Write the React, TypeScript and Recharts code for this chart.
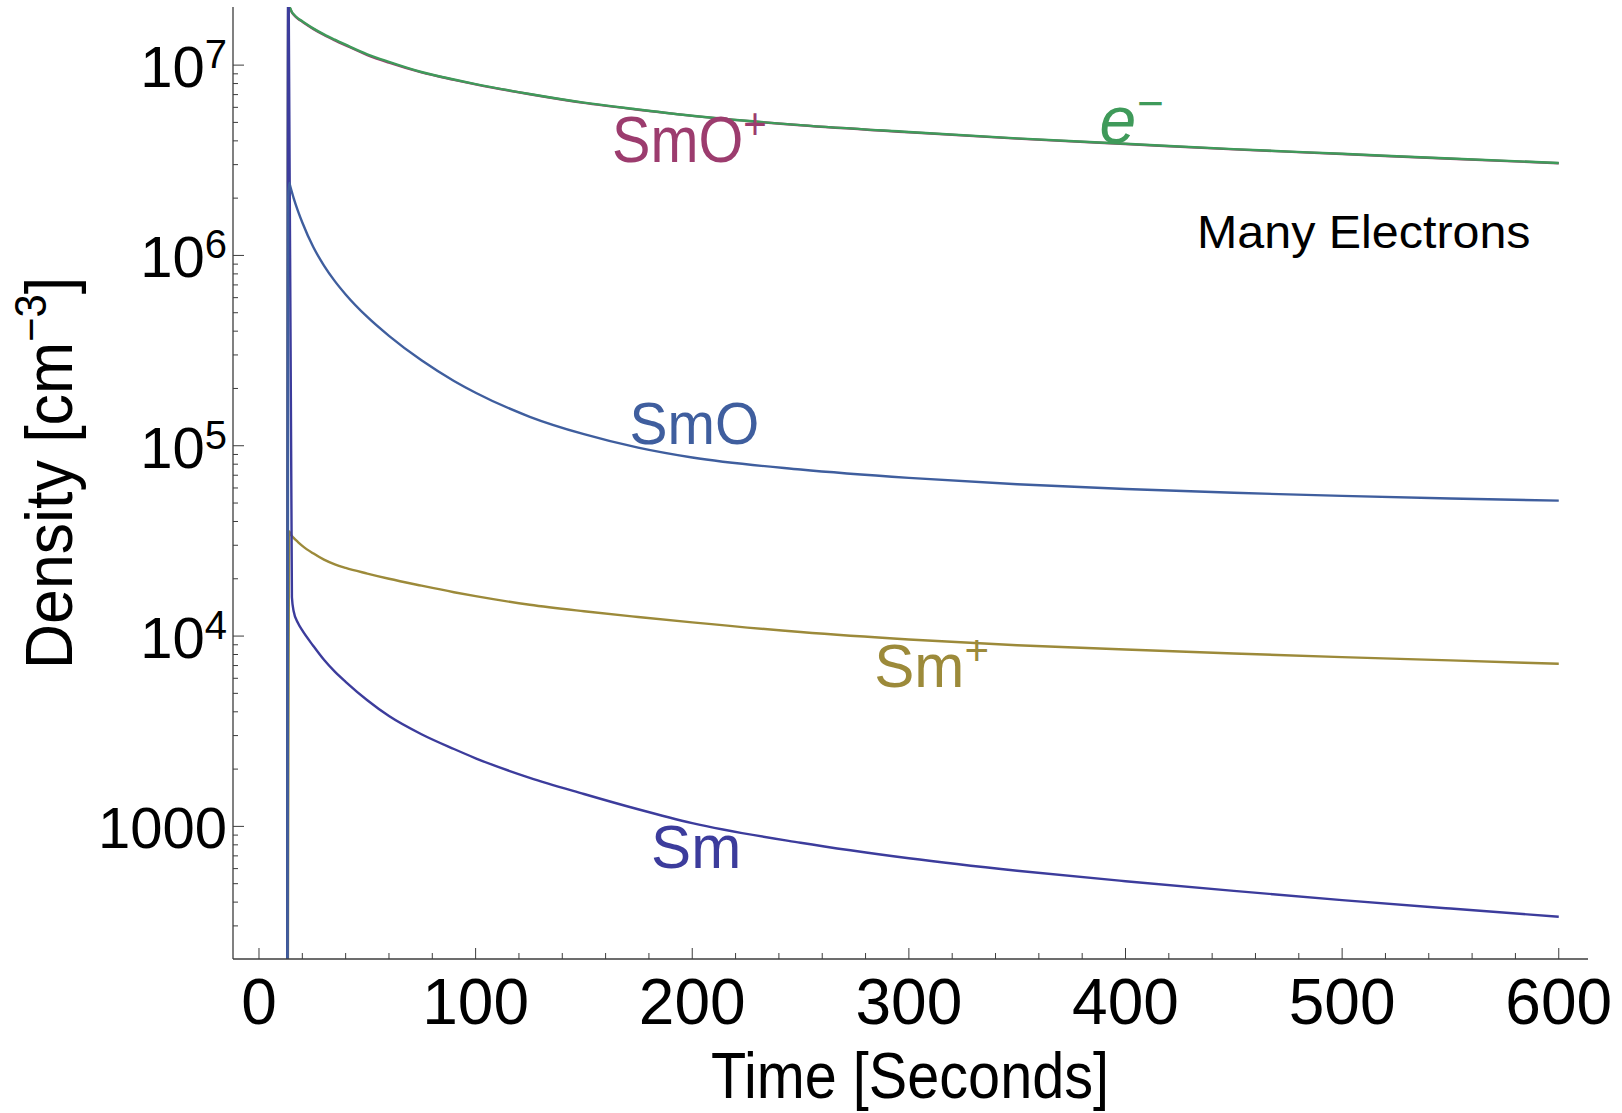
import React from 'react';
import { LineChart, Line, XAxis, YAxis, ReferenceDot } from 'recharts';

// time axis (seconds) shared by all species
const times = [13, 13.5, 14, 14.5, 15.2, 16, 18, 20, 25, 30, 35, 40, 50, 60, 75, 90, 100, 125, 150, 175, 200, 250, 300, 350, 400, 450, 500, 550, 600];

// densities in cm^-3 (null = no sample at that time)
const electrons = [1, 2.3e7, 2.05e7, 1.98e7, 1.9e7, 1.85e7, 1.76e7, 1.7e7, 1.56e7, 1.45e7, 1.36e7, 1.28e7, 1.14e7, 1.04e7, 9.2e6, 8.4e6, 7.95e6, 7.05e6, 6.35e6, 5.85e6, 5.42e6, 4.84e6, 4.45e6, 4.12e6, 3.86e6, 3.62e6, 3.42e6, 3.23e6, 3.06e6];
const smoPlus = [1, 2.2e7, 2.04e7, 1.97e7, 1.89e7, 1.84e7, 1.75e7, 1.69e7, 1.55e7, 1.44e7, 1.35e7, 1.27e7, 1.13e7, 1.03e7, 9.15e6, 8.37e6, 7.92e6, 7.03e6, 6.33e6, 5.83e6, 5.41e6, 4.83e6, 4.44e6, 4.11e6, 3.85e6, 3.61e6, 3.41e6, 3.22e6, 3.05e6];
const smo = [1, 2.0e6, 2.4e6, 2.29e6, 2.15e6, 2.0e6, 1.71e6, 1.49e6, 1.11e6, 8.85e5, 7.33e5, 6.24e5, 4.75e5, 3.78e5, 2.81e5, 2.19e5, 1.9e5, 1.42e5, 1.15e5, 9.77e4, 8.67e4, 7.5e4, 6.78e4, 6.28e4, 5.93e4, 5.66e4, 5.45e4, 5.28e4, 5.15e4];
const smPlus = [1, null, 3.55e4, 3.45e4, 3.36e4, 3.28e4, 3.12e4, 2.98e4, 2.72e4, 2.52e4, 2.38e4, 2.28e4, 2.13e4, 2.0e4, 1.84e4, 1.7e4, 1.62e4, 1.46e4, 1.35e4, 1.26e4, 1.18e4, 1.05e4, 9.6e3, 8.95e3, 8.5e3, 8.1e3, 7.75e3, 7.45e3, 7.15e3];
const sm = [1, 6e7, null, null, 1.6e4, 1.35e4, 1.17e4, 1.07e4, 8.9e3, 7.5e3, 6.5e3, 5.75e3, 4.6e3, 3.8e3, 3.05e3, 2.55e3, 2.28e3, 1.8e3, 1.48e3, 1.23e3, 1.04e3, 820, 680, 585, 515, 458, 410, 370, 335];

// ticks
const xMajorTicks = [0, 100, 200, 300, 400, 500, 600];
const xTickLabels = ['0', '100', '200', '300', '400', '500', '600'];
const xMinorTicks = [20, 40, 60, 80, 120, 140, 160, 180, 220, 240, 260, 280, 320, 340, 360, 380, 420, 440, 460, 480, 520, 540, 560, 580];
const yMajorTicks = [1e3, 1e4, 1e5, 1e6, 1e7];
const yTickBases = ['1000', '10', '10', '10', '10'];
const yTickExps = ['', '4', '5', '6', '7'];
const yMinorSteps = [2, 3, 4, 5, 6, 7, 8, 9];
const yDecades = [100, 1e3, 1e4, 1e5, 1e6, 1e7];

// series annotations: [time, density]
const labelSmoPlus = [163, 3.11e6];
const labelElectron = [388, 3.92e6];
const labelSmo = [171, 1.02e5];
const labelSmPlus = [284, 5.4e3];
const labelSm = [181, 605];
const labelNote = [433, 1.1e6];

const W = 1622;
const H = 1113;
const X_DOMAIN = [-12, 613.5];
const Y_DOMAIN = [201, 2.02e7];
const FONT = '"Liberation Sans", Arial, Helvetica, sans-serif';
const FRAME = '#3c3c3c';

const C_E = '#3f9a5a';
const C_SMOP = '#9c3c6e';
const C_SMO = '#3f5e9e';
const C_SMP = '#9c8a3a';
const C_SM = '#3c3c9c';

const yMinorTicks = yDecades
  .flatMap((d) => yMinorSteps.map((s) => s * d))
  .filter((v) => v > Y_DOMAIN[0] && v < Y_DOMAIN[1] * 0.97);

const BottomTick = (props: any) => {
  const { x, y, payload } = props;
  const i = xMajorTicks.indexOf(payload.value);
  const major = i >= 0;
  return (
    <g>
      <line x1={x} x2={x} y1={y} y2={y - (major ? 11 : 6)} stroke={FRAME} strokeWidth={1} />
      {major && (
        <text x={x} y={y + 65} textAnchor="middle" fontSize={64} fontFamily={FONT} fill="#000">
          {xTickLabels[i]}
        </text>
      )}
    </g>
  );
};

const TopTick = (props: any) => {
  const { x, y, payload } = props;
  const major = xMajorTicks.includes(payload.value);
  return <line x1={x} x2={x} y1={y} y2={y + (major ? 11 : 6)} stroke={FRAME} strokeWidth={1} />;
};

const LeftTick = (props: any) => {
  const { x, y, payload } = props;
  const i = yMajorTicks.indexOf(payload.value);
  const major = i >= 0;
  return (
    <g>
      <line x1={x} x2={x + (major ? 11 : 5)} y1={y} y2={y} stroke={FRAME} strokeWidth={1} />
      {major && (
        <text x={x - 6} y={y + 22} textAnchor="end" fontSize={58} fontFamily={FONT} fill="#000">
          {yTickBases[i]}
          {yTickExps[i] && (
            <tspan fontSize={40} dy={-19}>
              {yTickExps[i]}
            </tspan>
          )}
        </text>
      )}
    </g>
  );
};

const RightTick = (props: any) => {
  const { x, y, payload } = props;
  const major = yMajorTicks.includes(payload.value);
  return <line x1={x} x2={x - (major ? 11 : 5)} y1={y} y2={y} stroke={FRAME} strokeWidth={1} />;
};

const seriesText = (text: string, sup: string, color: string, size = 62, sx = 0.95, italic = false) =>
  (p: any) => (
    <text
      transform={`translate(${p.cx},${p.cy}) scale(${sx},1)`}
      fontSize={size}
      fontFamily={FONT}
      fontStyle={italic ? 'italic' : 'normal'}
      fill={color}
    >
      {text}
      {sup && (
        <tspan fontSize={size * 0.7} dy={-size * 0.36}>
          {sup}
        </tspan>
      )}
    </text>
  );

export default function App() {
  const rows = times.map((t, i) => ({
    t,
    e: electrons[i],
    smoPlus: smoPlus[i],
    smo: smo[i],
    smPlus: smPlus[i],
    sm: sm[i],
  }));

  const line = (key: string, color: string) => (
    <Line
      key={key}
      xAxisId="b"
      yAxisId="l"
      type="monotone"
      dataKey={key}
      stroke={color}
      strokeWidth={2.4}
      dot={false}
      connectNulls
      isAnimationActive={false}
    />
  );

  return (
    <div style={{ position: 'absolute', left: 0, top: 0, width: W, height: H, background: '#fff' }}>
      <LineChart width={W} height={H} data={rows} margin={{ top: 7, right: 34, bottom: 0, left: 0 }}>
        <XAxis
          xAxisId="b"
          dataKey="t"
          type="number"
          domain={X_DOMAIN}
          allowDataOverflow
          ticks={[...xMajorTicks, ...xMinorTicks]}
          interval={0}
          height={154}
          tickSize={0}
          tickMargin={0}
          tickLine={false}
          axisLine={{ stroke: FRAME, strokeWidth: 1.3 }}
          tick={BottomTick}
        />
        <XAxis
          xAxisId="t"
          orientation="top"
          dataKey="t"
          type="number"
          domain={X_DOMAIN}
          allowDataOverflow
          ticks={[...xMajorTicks, ...xMinorTicks]}
          interval={0}
          height={0}
          tickSize={0}
          tickMargin={0}
          tickLine={false}
          axisLine={{ stroke: FRAME, strokeWidth: 1.3 }}
          tick={TopTick}
        />
        <YAxis
          yAxisId="l"
          scale="log"
          type="number"
          domain={Y_DOMAIN}
          allowDataOverflow
          ticks={[...yMajorTicks, ...yMinorTicks]}
          interval={0}
          width={233}
          tickSize={0}
          tickMargin={0}
          tickLine={false}
          axisLine={{ stroke: FRAME, strokeWidth: 1.3 }}
          tick={LeftTick}
        />
        <YAxis
          yAxisId="r"
          orientation="right"
          scale="log"
          type="number"
          domain={Y_DOMAIN}
          allowDataOverflow
          ticks={[...yMajorTicks, ...yMinorTicks]}
          interval={0}
          width={0}
          tickSize={0}
          tickMargin={0}
          tickLine={false}
          axisLine={{ stroke: FRAME, strokeWidth: 1.3 }}
          tick={RightTick}
        />
        {line('smoPlus', C_SMOP)}
        {line('e', C_E)}
        {line('smPlus', C_SMP)}
        {line('sm', C_SM)}
        {line('smo', C_SMO)}

        <ReferenceDot xAxisId="b" yAxisId="l" x={labelSmoPlus[0]} y={labelSmoPlus[1]} r={0} shape={seriesText('SmO', '+', C_SMOP, 64, 0.9)} />
        <ReferenceDot xAxisId="b" yAxisId="l" x={labelElectron[0]} y={labelElectron[1]} r={0} shape={seriesText('e', '\u2212', C_E, 66, 1, true)} />
        <ReferenceDot xAxisId="b" yAxisId="l" x={labelSmo[0]} y={labelSmo[1]} r={0} shape={seriesText('SmO', '', C_SMO, 60, 0.95)} />
        <ReferenceDot xAxisId="b" yAxisId="l" x={labelSmPlus[0]} y={labelSmPlus[1]} r={0} shape={seriesText('Sm', '+', C_SMP, 62, 0.97)} />
        <ReferenceDot xAxisId="b" yAxisId="l" x={labelSm[0]} y={labelSm[1]} r={0} shape={seriesText('Sm', '', C_SM, 62, 0.97)} />
        <ReferenceDot xAxisId="b" yAxisId="l" x={labelNote[0]} y={labelNote[1]} r={0} shape={seriesText('Many Electrons', '', '#000', 47, 1.03)} />
      </LineChart>
      <svg width={W} height={H} style={{ position: 'absolute', left: 0, top: 0, pointerEvents: 'none' }}>
        <text
          transform="translate(910,1098) scale(0.9,1)"
          textAnchor="middle"
          fontSize={64}
          fontFamily={FONT}
          fill="#000"
        >
          Time [Seconds]
        </text>
        <text
          transform="translate(72,473) rotate(-90) scale(0.95,1)"
          textAnchor="middle"
          fontSize={66}
          fontFamily={FONT}
          fill="#000"
        >
          Density [cm
          <tspan fontSize={44} dy={-26}>
            {'\u22123'}
          </tspan>
          <tspan dy={26}>]</tspan>
        </text>
      </svg>
    </div>
  );
}
